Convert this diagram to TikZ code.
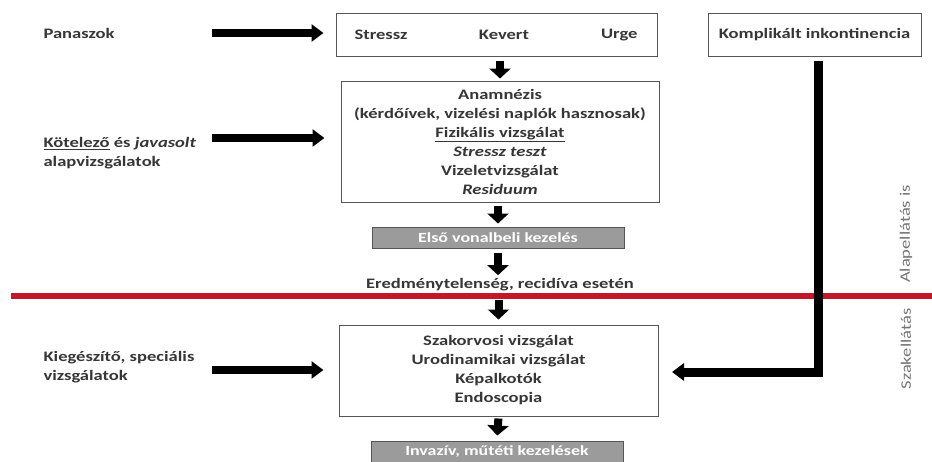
\documentclass[tikz,border=0pt]{standalone}
\usepackage{fontspec}
\setmainfont{Carlito}[FakeStretch=1.28]
\usepackage{tikz}
\usetikzlibrary{arrows.meta, positioning}
\definecolor{Flow_Text}{HTML}{363636}
\definecolor{Flow_Red}{HTML}{C3182B}
\definecolor{Flow_Gray}{HTML}{9B9B9B}
\definecolor{Flow_Edge}{HTML}{555555}
\definecolor{Flow_Side}{HTML}{747474}

\tikzset{
  txt/.style={font=\fontsize{14.5}{19}\selectfont\bfseries, text=Flow_Text},
  box/.style={txt, draw=Flow_Edge, line width=1pt, fill=white, align=center},
  kezeles/.style={box, font=\fontsize{14}{16}\selectfont\bfseries, fill=Flow_Gray, text=white, minimum width=252pt, minimum height=21pt, inner sep=0pt},
  side/.style={font=\fontsize{14.5}{19}\selectfont, text=Flow_Side, rotate=90},
  fatarrow/.style={line width=8pt, -{Triangle[width=17pt,length=12pt]}},
  downarrow/.style={line width=8pt, -{Triangle[width=21pt,length=10pt]}},
}

\begin{document}
\begin{tikzpicture}[x=1pt, y=-1pt]
    \useasboundingbox (0,0) rectangle (932,461);
    % Panaszok
    \node[txt, anchor=west] (panasz) at (40,33) {Panaszok};
    \node[box, minimum width=321pt, minimum height=43pt] (tipus) at (496.5,34.5) {};
    \node[txt, anchor=west] (stressz) at (351,35) {Stressz};
    \node[txt] (kevert) at (504,35) {Kevert};
    \node[txt, anchor=east] (urge) at (641,35) {Urge};
    \node[box, minimum width=213pt, minimum height=43pt] (komp) at (814.5,34.5) {Komplikált inkontinencia};
    % Alapvizsgalatok
    \node[txt, anchor=west, align=left] (kotelezo) at (40,153) {\underline{Kötelező} és \textit{javasolt}\\alapvizsgálatok};
    \node[box, minimum width=318pt, minimum height=121pt] (anam) at (500,141.5) {Anamnézis\\(kérdőívek, vizelési naplók hasznosak)\\\underline{Fizikális vizsgálat}\\\textit{Stressz teszt}\\Vizeletvizsgálat\\\textit{Residuum}};
    \node[kezeles] (elso) at (498,237.5) {Első vonalbeli kezelés};
    \node[txt] (eredm) at (500,285) {Eredménytelenség, recidíva esetén};
    % Red divider
    \draw[Flow_Red, line width=6pt] (11,296) -- (932,296);
    % Szakellatas
    \node[txt, anchor=west, align=left] (kieg) at (40,367.5) {Kiegészítő, speciális\\vizsgálatok};
    \node[box, minimum width=319pt, minimum height=91pt] (szak) at (498.5,370.5) {Szakorvosi vizsgálat\\Urodinamikai vizsgálat\\Képalkotók\\Endoscopia};
    \node[kezeles] (invaz) at (497,451.5) {Invazív, műtéti kezelések};
    % Side labels
    \node[side] (alap) at (906,234) {Alapellátás is};
    \node[side] (szakell) at (906,349) {Szakellátás};
    % Left arrows
    \coordinate (p1) at (212,33);
    \coordinate (p2) at (212,138);
    \coordinate (p3) at (212,370);
    \draw[fatarrow, shorten >=12pt] (p1) -- (p1 -| tipus.west);
    \draw[fatarrow, shorten >=16pt] (p2) -- (p2 -| anam.west);
    \draw[fatarrow, shorten >=15pt] (p3) -- (p3 -| szak.west);
    % Down arrows
    \draw[downarrow, shorten <=4pt, shorten >=2pt] (anam.north |- tipus.south) -- (anam.north);
    \draw[downarrow, shorten <=3pt, shorten >=3pt] (elso.north |- anam.south) -- (elso.north);
    \draw[downarrow, shorten <=4pt] (elso.south) -- (elso.south |- eredm.north);
    \draw[downarrow, shorten <=5pt, shorten >=5pt] (szak.north |- eredm.south) -- (szak.north);
    \draw[downarrow, shorten <=2pt, shorten >=5pt] (szak.south) -- (invaz.north);
    % Komplikalt -> szakorvosi
    \coordinate (ltip) at (672,372);
    \draw[fatarrow, line width=9pt] ([xshift=4pt, yshift=-4pt]komp.south) |- (ltip);
\end{tikzpicture}
\end{document}
